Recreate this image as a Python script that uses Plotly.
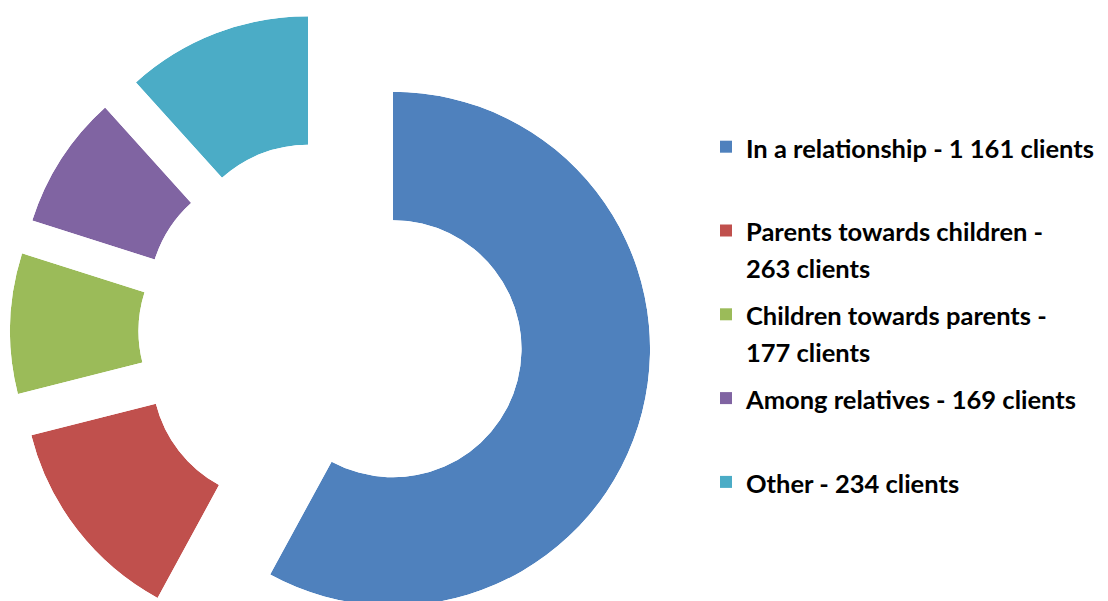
import numpy as np
import plotly.graph_objects as go

categories = ["In a relationship", "Parents towards children", "Children towards parents",
              "Among relatives", "Other"]
clients = [1161, 263, 177, 169, 234]
legend_labels = [
    "In a relationship - 1 161 clients",
    "Parents towards children -<br>263 clients",
    "Children towards parents -<br>177 clients",
    "Among relatives - 169 clients",
    "Other - 234 clients",
]
colors = ["#4F81BD", "#C0504D", "#9BBB59", "#8064A2", "#4BACC6"]

W, H = 1108, 601
# the page puts the figure 8px in from the top-left, so positions are shifted by 8
cx0, cy0 = 323, 325      # donut centre before explosion, px
R = 257                  # outer radius, px
explode = 64             # how far each slice is pushed out, px


def sector_bbox(a0, a1):
    # box of a polar sector, centre included (as plotly does it)
    angs = [a0, a1] + [k for k in range(-360, 721, 90) if a0 < k < a1]
    xs = [0] + [np.cos(np.radians(a)) for a in angs]
    ys = [0] + [np.sin(np.radians(a)) for a in angs]
    return min(xs), min(ys), max(xs), max(ys)


def clamp(v):
    return min(max(v, 0.0), 1.0)


def legend_name(txt):
    lines = txt.split("<br>")
    if len(lines) == 1:
        lines.append("\u00a0")
    return "<br>".join("<span style='font-size:25.5px'>%s</span>" % ln for ln in lines)


fig = go.Figure()
total = sum(clients)
start = 0.0
for i, (v, lab, col) in enumerate(zip(clients, legend_labels, colors)):
    span = 360.0 * v / total
    mid = start + span / 2
    cx = cx0 + explode * np.sin(np.radians(mid))
    cy = cy0 - explode * np.cos(np.radians(mid))
    sector = [90 - (start + span), 90 - start]
    x0, y0, x1, y1 = sector_bbox(*sector)
    pid = "polar" if i == 0 else "polar%d" % (i + 1)

    fig.add_trace(go.Barpolar(
        r=[1], theta=[mid], width=[span],
        marker=dict(color=col, line=dict(width=0)),
        name=legend_name(lab), subplot=pid, legendgroup="g%d" % i,
        hovertext=["%s: %d" % (categories[i], v)], hoverinfo="text",
    ))
    fig.update_layout({pid: dict(
        domain=dict(x=[clamp((cx + R * x0) / W), clamp((cx + R * x1) / W)],
                    y=[clamp(1 - (cy - R * y0) / H), clamp(1 - (cy - R * y1) / H)]),
        sector=sector,
        hole=0.5,
        bgcolor="rgba(0,0,0,0)",
        radialaxis=dict(visible=False, range=[0, 1]),
        angularaxis=dict(visible=False, rotation=90, direction="clockwise"),
    )})
    start += span

fig.update_layout(
    template="none",
    width=W, height=H,
    margin=dict(l=0, r=0, t=0, b=0),
    paper_bgcolor="white",
    showlegend=True,
    legend=dict(
        x=698 / W, y=1 - 114 / H, xanchor="left", yanchor="top",
        traceorder="grouped", tracegroupgap=8, valign="top",
        font=dict(family="Lato", size=28, color="black", weight="bold"),
        bgcolor="rgba(0,0,0,0)",
    ),
)

fig.write_html("out.html")
